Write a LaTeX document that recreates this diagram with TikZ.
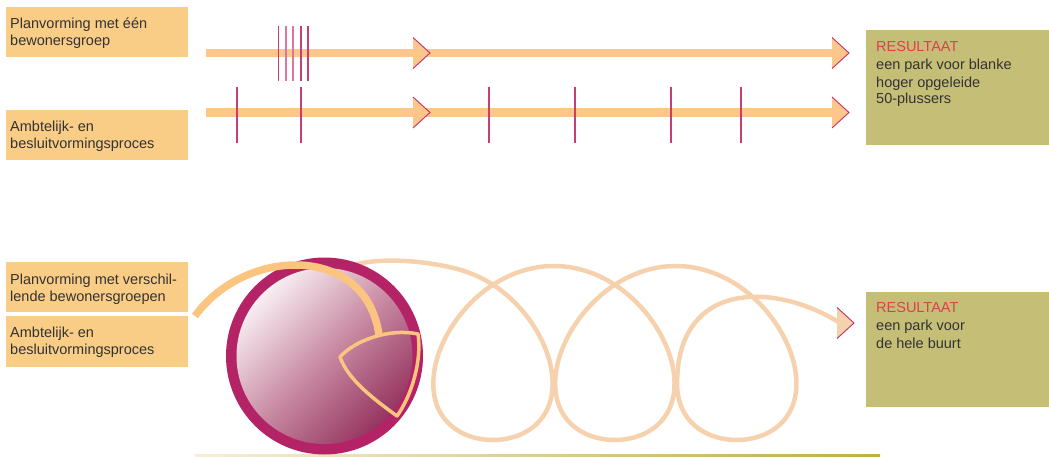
\documentclass[tikz,border=0pt]{standalone}
\usepackage{fontspec}
\setmainfont{Liberation Sans}
\definecolor{labelfill}{HTML}{F9CD86}
\definecolor{shaftcol}{HTML}{FDC78B}
\definecolor{resfill}{HTML}{C5BE77}
\definecolor{resred}{HTML}{DE3F4F}
\definecolor{darktext}{HTML}{333333}
\definecolor{ringcol}{HTML}{B52367}
\definecolor{tickcol}{HTML}{C63E74}
\definecolor{ticklight}{HTML}{D9789C}
\definecolor{peach}{HTML}{F6D1AD}
\definecolor{orangeline}{HTML}{FBC580}
\definecolor{headedge}{HTML}{C2306A}
\definecolor{lineolive}{HTML}{BDAF48}
\definecolor{linepale}{HTML}{F4EFDC}
\definecolor{discA}{HTML}{F8EEF2}
\definecolor{discB}{HTML}{C98CA4}
\definecolor{discC}{HTML}{963560}
\newcommand{\myhead}[3]{%
  \fill[#3] (#1,#2-15.5) -- (#1+17,#2) -- (#1,#2+15.5) -- cycle;
  \draw[draw=headedge, line width=0.9pt, line join=miter] (#1,#2-15.5) -- (#1+17,#2) -- (#1,#2+15.5);}
\tikzset{
  labelbox/.style={fill=labelfill, draw=none, anchor=north west, minimum width=182pt, inner sep=0pt},
  resbox/.style={fill=resfill, draw=none, anchor=north west, minimum width=183pt, minimum height=115pt, inner sep=0pt},
  txt/.style={anchor=base west, inner sep=0pt, text=darktext, font=\fontsize{14.5}{17}\selectfont},
  restitle/.style={txt, text=resred},
  shaft/.style={draw=shaftcol},
  tickmark/.style={draw=tickcol, line width=1.4pt},
  lighttick/.style={draw=ticklight, line width=1.4pt},
  coil/.style={draw=peach, line width=4.5pt, line cap=round},
  orangearc/.style={draw=orangeline, line width=7.5pt},
  shieldline/.style={draw=orangeline, line width=3.5pt, line join=round},
}
\begin{document}
\begin{tikzpicture}[x=1pt,y=-1pt]
\useasboundingbox (0,0) rectangle (1049,457);
% ---------- top part ----------
\node[labelbox, minimum height=50pt] (lb1) at (6,7) {};
\node[labelbox, minimum height=50pt] (lb2) at (6,110) {};
\node[txt] (t1a) at (10,28.3) {Planvorming met één};
\node[txt] (t1b) at (10,45.7) {bewonersgroep};
\node[txt] (t2a) at (10,131.7) {Ambtelijk- en};
\node[txt] (t2b) at (10,149) {besluitvormingsproces};

\node[resbox] (r1) at (866,30) {};
\node[restitle] (r1t) at (876,51.7) {RESULTAAT};
\node[txt] (r1a) at (876,70) {een park voor blanke};
\node[txt] (r1b) at (876,87.7) {hoger opgeleide};
\node[txt] (r1c) at (876,104) {50-plussers};

\coordinate (a1s) at (206,53);
\coordinate (a1e) at (834,53);
\coordinate (a2s) at (206,112.5);
\coordinate (a2e) at (834,112.5);
\draw[shaft, line width=8.5pt] (a1s) -- (a1e);
\draw[shaft, line width=9pt] (a2s) -- (a2e);
\myhead{413}{53}{shaftcol}
\myhead{832}{53}{shaftcol}
\myhead{413}{112.5}{shaftcol}
\myhead{832}{112.5}{shaftcol}

\draw[tickmark] (278.5,26) -- (278.5,81);
\draw[lighttick] (286,26) -- (286,81);
\draw[lighttick] (293,26) -- (293,81);
\draw[tickmark] (301,26) -- (301,81);
\draw[tickmark] (308,26) -- (308,81);
\foreach \xx in {237,301,489,575,671,741}
  \draw[tickmark] (\xx,87) -- (\xx,143);

% ---------- bottom part ----------
\node[labelbox, minimum height=50pt] (lb3) at (6,262) {};
\node[labelbox, minimum height=51pt] (lb4) at (6,316) {};
\node[txt] (t3a) at (10,284.3) {Planvorming met verschil-};
\node[txt] (t3b) at (10,301.7) {lende bewonersgroepen};
\node[txt] (t4a) at (10,337.3) {Ambtelijk- en};
\node[txt] (t4b) at (10,354.3) {besluitvormingsproces};

\node[resbox] (r2) at (866,292) {};
\node[restitle] (r2t) at (876,312.7) {RESULTAAT};
\node[txt] (r2a) at (876,330.7) {een park voor};
\node[txt] (r2b) at (876,348.3) {de hele buurt};

% bottom rule
\shade[left color=linepale, middle color=lineolive, right color=lineolive] (195,454.8) rectangle (880,456.4);

% coil (behind circle)
\draw[coil] (345,268) .. controls (375,255) and (432.8,261.15) .. (463.8,270.9);
\draw[coil] plot[domain=0.3:17.057, samples=400, variable=\t]
  ({432+19.4*\t+88*sin(\t r)}, {353-87*cos(\t r)+12*pow(sin(\t r),2)});
\coordinate (cend) at (840,323);
\draw[coil] (677.1,383.6) .. controls (677.1,280) and (775,282) .. (cend);
\myhead{837}{323}{peach}

% circle
\fill[ringcol] (324.5,356) circle (98.5pt);
\shade[top color=discA, bottom color=discC, middle color=discB, shading angle=45] (324.5,356) circle (88pt);

% orange arc and shield
\draw[orangearc] (195,316) .. controls (245,247) and (366,243) .. (379,335);
\draw[shieldline] (340,357) .. controls (355,340) and (390,328) .. (418,334)
  .. controls (422,360) and (412,395) .. (397,416)
  .. controls (375,400) and (348,380) .. cycle;
\end{tikzpicture}
\end{document}
